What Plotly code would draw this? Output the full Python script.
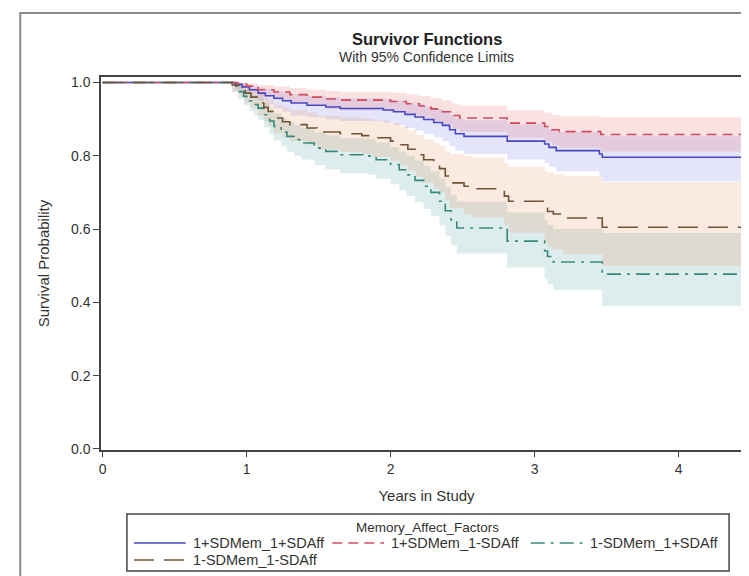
import plotly.graph_objects as go

# ---------------- data ----------------
legend_title = "Memory_Affect_Factors"
group_names = ["1+SDMem_1+SDAff", "1+SDMem_1-SDAff", "1-SDMem_1+SDAff", "1-SDMem_1-SDAff"]

# 1+SDMem_1+SDAff (blue, solid)
t_blue = [0, 0.92, 0.97, 1.02, 1.08, 1.13, 1.19, 1.25, 1.31, 1.42, 1.55, 1.65, 1.95, 2.02, 2.10, 2.17,
          2.23, 2.30, 2.36, 2.41, 2.45, 2.51, 2.81, 3.07, 3.10, 3.15, 3.45, 3.47, 4.50]
s_blue = [1.0, 0.995, 0.988, 0.980, 0.971, 0.964, 0.957, 0.950, 0.944, 0.938, 0.933, 0.929, 0.925, 0.920, 0.913, 0.906,
          0.899, 0.891, 0.883, 0.871, 0.860, 0.853, 0.840, 0.832, 0.823, 0.814, 0.805, 0.796, 0.796]
lo_blue = [1.0, 0.980, 0.970, 0.960, 0.950, 0.940, 0.930, 0.920, 0.910, 0.905, 0.900, 0.895, 0.890, 0.884, 0.876, 0.868,
           0.860, 0.850, 0.840, 0.826, 0.814, 0.805, 0.790, 0.780, 0.770, 0.758, 0.745, 0.730, 0.730]
hi_blue = [1.0, 0.999, 0.996, 0.992, 0.987, 0.982, 0.977, 0.972, 0.968, 0.964, 0.960, 0.957, 0.954, 0.950, 0.945, 0.940,
           0.934, 0.928, 0.921, 0.911, 0.902, 0.897, 0.886, 0.879, 0.871, 0.864, 0.858, 0.853, 0.853]

# 1+SDMem_1-SDAff (red, dashed)
t_red = [0, 0.94, 1.00, 1.08, 1.19, 1.30, 1.42, 1.55, 1.65, 2.00, 2.11, 2.20, 2.28, 2.36, 2.43, 2.48,
         2.81, 3.07, 3.12, 3.17, 3.46, 4.50]
s_red = [1.0, 0.996, 0.990, 0.980, 0.974, 0.967, 0.960, 0.955, 0.952, 0.948, 0.942, 0.936, 0.928, 0.920, 0.910, 0.903,
         0.889, 0.880, 0.871, 0.866, 0.858, 0.858]
lo_red = [1.0, 0.985, 0.975, 0.962, 0.953, 0.944, 0.935, 0.928, 0.924, 0.919, 0.911, 0.904, 0.894, 0.885, 0.873, 0.865,
          0.849, 0.838, 0.828, 0.822, 0.812, 0.812]
hi_red = [1.0, 0.999, 0.998, 0.993, 0.989, 0.985, 0.980, 0.977, 0.975, 0.972, 0.968, 0.963, 0.957, 0.951, 0.943, 0.937,
          0.925, 0.918, 0.912, 0.908, 0.905, 0.905]

# 1-SDMem_1+SDAff (teal, dash-dot)
t_teal = [0, 0.90, 0.94, 0.98, 1.02, 1.05, 1.08, 1.12, 1.16, 1.19, 1.24, 1.28, 1.33, 1.38, 1.47, 1.55, 1.65,
          1.85, 1.90, 2.00, 2.06, 2.11, 2.17, 2.23, 2.28, 2.34, 2.38, 2.42, 2.46, 2.81, 3.07, 3.09, 3.13, 3.47, 4.50]
s_teal = [1.0, 0.990, 0.975, 0.962, 0.950, 0.940, 0.930, 0.912, 0.895, 0.880, 0.865, 0.853, 0.844, 0.835, 0.821, 0.812, 0.803,
          0.799, 0.789, 0.776, 0.762, 0.748, 0.733, 0.717, 0.700, 0.676, 0.650, 0.625, 0.603, 0.567, 0.540, 0.525, 0.510, 0.477, 0.477]
lo_teal = [1.0, 0.975, 0.955, 0.938, 0.922, 0.910, 0.898, 0.877, 0.858, 0.842, 0.825, 0.811, 0.800, 0.790, 0.774, 0.763, 0.752,
           0.748, 0.737, 0.722, 0.706, 0.690, 0.673, 0.655, 0.636, 0.610, 0.582, 0.556, 0.533, 0.495, 0.465, 0.450, 0.434, 0.390, 0.390]
hi_teal = [1.0, 0.998, 0.991, 0.982, 0.973, 0.966, 0.958, 0.944, 0.929, 0.916, 0.903, 0.892, 0.884, 0.876, 0.864, 0.856, 0.848,
           0.845, 0.836, 0.824, 0.812, 0.800, 0.787, 0.772, 0.757, 0.737, 0.714, 0.692, 0.675, 0.645, 0.625, 0.612, 0.600, 0.589, 0.589]

# 1-SDMem_1-SDAff (brown, long dash)
t_brown = [0, 0.90, 0.95, 0.99, 1.03, 1.08, 1.12, 1.15, 1.19, 1.25, 1.30, 1.42, 1.49, 1.65, 1.80, 1.88, 2.00, 2.07, 2.12,
           2.18, 2.23, 2.30, 2.34, 2.38, 2.41, 2.51, 2.56, 2.79, 2.82, 3.07, 3.09, 3.13, 3.20, 3.47, 4.50]
s_brown = [1.0, 0.993, 0.985, 0.971, 0.960, 0.944, 0.932, 0.921, 0.903, 0.893, 0.885, 0.876, 0.865, 0.860, 0.855, 0.849, 0.840,
           0.830, 0.818, 0.803, 0.789, 0.775, 0.765, 0.745, 0.726, 0.717, 0.710, 0.690, 0.676, 0.660, 0.648, 0.641, 0.630, 0.605, 0.605]
lo_brown = [1.0, 0.975, 0.962, 0.945, 0.930, 0.910, 0.895, 0.882, 0.862, 0.850, 0.840, 0.830, 0.817, 0.810, 0.804, 0.797, 0.786,
            0.774, 0.760, 0.743, 0.727, 0.711, 0.700, 0.678, 0.657, 0.640, 0.632, 0.610, 0.590, 0.565, 0.552, 0.544, 0.532, 0.500, 0.500]
hi_brown = [1.0, 0.999, 0.995, 0.987, 0.980, 0.970, 0.961, 0.953, 0.939, 0.932, 0.925, 0.918, 0.909, 0.905, 0.901, 0.896, 0.889,
            0.880, 0.870, 0.857, 0.845, 0.835, 0.826, 0.812, 0.805, 0.800, 0.795, 0.780, 0.770, 0.760, 0.755, 0.750, 0.745, 0.728, 0.728]

x_ticks = [0, 1, 2, 3, 4]
y_ticks = [0.0, 0.2, 0.4, 0.6, 0.8, 1.0]

# ---------------- styling ----------------
FONT = "Arial, Liberation Sans, sans-serif"
TXT = "#333333"
series = [
    (group_names[0], t_blue, s_blue, lo_blue, hi_blue, "#4848c4", "solid", "rgba(120,120,230,0.20)"),
    (group_names[1], t_red, s_red, lo_red, hi_red, "#d04a5c", "10px,6px", "rgba(230,110,110,0.20)"),
    (group_names[2], t_teal, s_teal, lo_teal, hi_teal, "#34897c", "14px,6px,3px,6px", "rgba(100,170,170,0.22)"),
    (group_names[3], t_brown, s_brown, lo_brown, hi_brown, "#6e5434", "20px,10px", "rgba(230,150,100,0.20)"),
]

fig = go.Figure()
for name, t, s, lo, hi, col, dash, fillc in series:
    fig.add_trace(go.Scatter(x=t, y=lo, mode="lines", line=dict(width=0, shape="hv"),
                             showlegend=False, hoverinfo="skip"))
    fig.add_trace(go.Scatter(x=t, y=hi, mode="lines", line=dict(width=0, shape="hv"),
                             fill="tonexty", fillcolor=fillc, showlegend=False, hoverinfo="skip"))
for name, t, s, lo, hi, col, dash, fillc in series:
    fig.add_trace(go.Scatter(x=t, y=s, mode="lines", name=name, showlegend=False,
                             line=dict(color=col, width=1.6, dash=dash, shape="hv")))

W, H = 749, 576
L, R, T, B = 93, 3, 69, 134
pw, ph = W - L - R, H - T - B

def px_x(px):
    return (px - L) / pw

def px_y(py):
    return (H - B - py) / ph

# ---- legend drawn as box + samples + labels (SAS-style) ----
shapes = [
    dict(type="rect", xref="paper", yref="paper",
         x0=px_x(12), x1=px_x(752), y0=px_y(573), y1=px_y(5),
         line=dict(color="#8a8a8a", width=2), fillcolor="rgba(0,0,0,0)", layer="below"),
    dict(type="rect", xref="paper", yref="paper",
         x0=px_x(119), x1=px_x(723), y0=px_y(563), y1=px_y(506),
         line=dict(color="#444444", width=1.5), fillcolor="rgba(0,0,0,0)"),
]
annotations = [
    dict(text="<b>Survivor Functions</b>", x=0.5, y=px_y(31), xref="paper", yref="paper",
         showarrow=False, font=dict(size=16.5, color="#222222"), xanchor="center", yanchor="middle"),
    dict(text="With 95% Confidence Limits", x=0.5, y=px_y(49), xref="paper", yref="paper",
         showarrow=False, font=dict(size=14, color=TXT), xanchor="center", yanchor="middle"),
    dict(text=legend_title, x=px_x(421), y=px_y(519), xref="paper", yref="paper",
         showarrow=False, font=dict(size=13.5, color=TXT), xanchor="center", yanchor="middle"),
]
legend_slots = [(126, 535), (325, 535), (524, 535), (126, 552)]
for (name, t, s, lo, hi, col, dash, fillc), (sx, sy) in zip(series, legend_slots):
    shapes.append(dict(type="line", xref="paper", yref="paper",
                       x0=px_x(sx), x1=px_x(sx + 52), y0=px_y(sy), y1=px_y(sy),
                       line=dict(color=col, width=1.6, dash=dash)))
    annotations.append(dict(text=name, x=px_x(sx + 57), y=px_y(sy), xref="paper", yref="paper",
                            showarrow=False, font=dict(size=14.5, color=TXT),
                            xanchor="left", yanchor="middle"))

fig.update_layout(
    width=W, height=H,
    margin=dict(l=L, r=R, t=T, b=B),
    paper_bgcolor="white", plot_bgcolor="white",
    font=dict(family=FONT, size=14, color=TXT),
    showlegend=False,
    xaxis=dict(
        range=[-0.011, 4.51], tickvals=x_ticks, ticktext=[str(v) for v in x_ticks],
        showgrid=False, zeroline=False,
        showline=True, mirror=True, linecolor="#444444", linewidth=1.5,
        ticks="outside", ticklen=5, tickcolor="#444444", tickwidth=1,
        tickfont=dict(size=14, color=TXT),
        title=dict(text="Years in Study", font=dict(size=15, color=TXT), standoff=15),
    ),
    yaxis=dict(
        range=[-0.003, 1.015], tickvals=y_ticks, ticktext=["%.1f" % v for v in y_ticks],
        showgrid=False, zeroline=False,
        showline=True, mirror=True, linecolor="#444444", linewidth=1.5,
        ticks="outside", ticklen=6, tickcolor="#444444", tickwidth=1,
        tickfont=dict(size=14, color=TXT),
        title=dict(text="Survival Probability", font=dict(size=15, color=TXT), standoff=18),
    ),
    annotations=annotations,
    shapes=shapes,
)

fig.write_html("out.html")
